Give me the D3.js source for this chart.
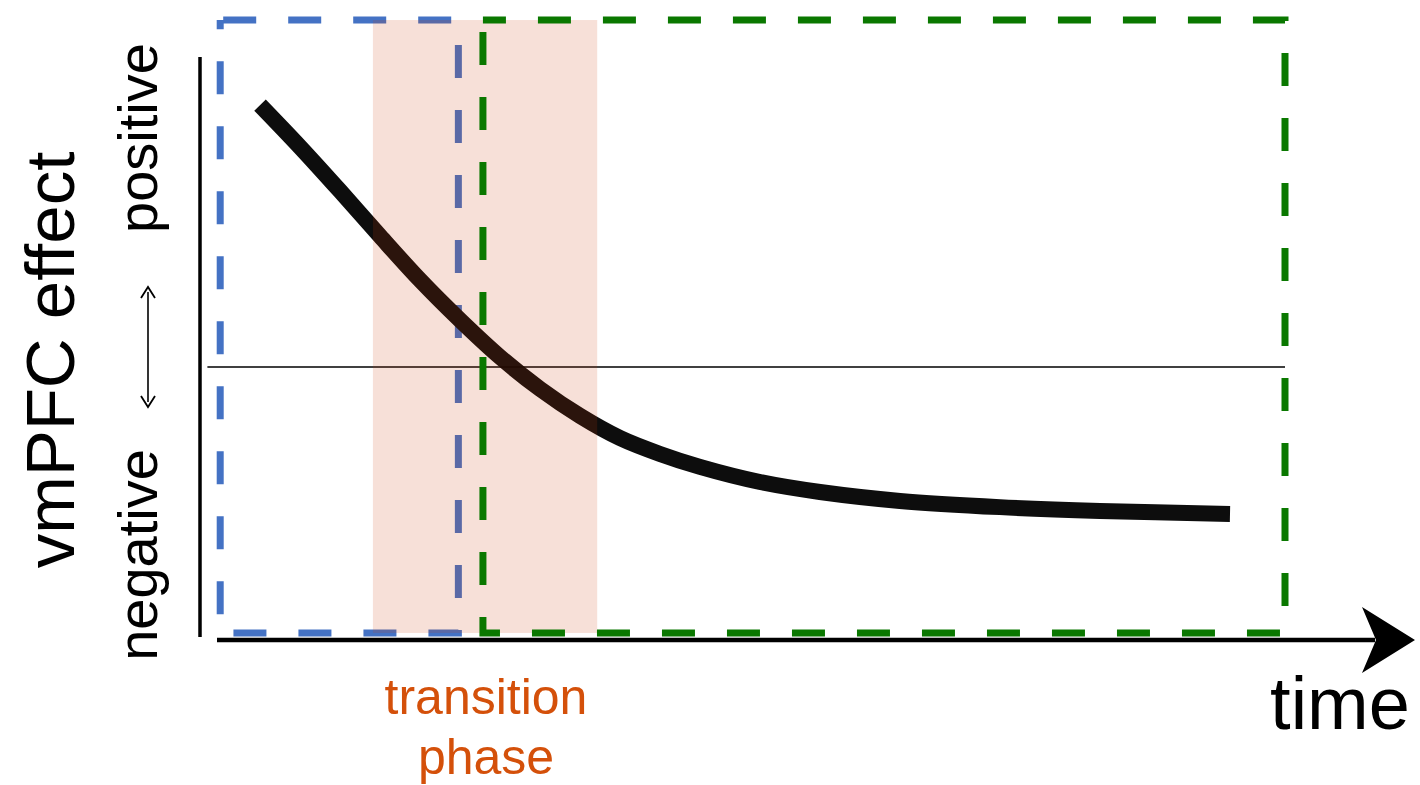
<!DOCTYPE html>
<html>
<head>
<meta charset="utf-8">
<script src="https://cdn.jsdelivr.net/npm/d3@7"></script>
<style>
  html, body { margin: 0; padding: 0; background: #fff; }
  svg { display: block; }
  text { font-family: "Liberation Sans", Arial, Helvetica, sans-serif; }
</style>
</head>
<body>
<svg id="chart" width="1420" height="785"></svg>
<script>
// ---- data ----
const curveTime  = [0.403, 0.777, 1.152, 1.526, 1.901, 2.275, 2.650, 3.024, 3.399, 3.773, 4.148, 4.522, 5.084, 5.646, 6.395, 7.331, 8.268, 9.485];
const curveValue = [0.970, 0.815, 0.652, 0.485, 0.322, 0.174, 0.037, -0.081, -0.181, -0.263, -0.322, -0.370, -0.426, -0.463, -0.496, -0.519, -0.533, -0.544];
const earlyWindow      = [0.03, 2.26];   // blue dashed window (time)
const lateWindow       = [2.49, 10.0];   // green dashed window (time)
const transitionWindow = [1.46, 3.56];   // shaded transition phase (time)
const windowValueRange = [-0.985, 1.285];
const yAxisLabels  = ["negative", "positive"];
const yTitle = "vmPFC effect";
const xTitle = "time";
const transitionLabel = ["transition", "phase"];

// ---- scales ----
const svg = d3.select("#chart");
const x = d3.scaleLinear().domain([0, 10]).range([217, 1285]);
const y = d3.scaleLinear().domain([-1, 1]).range([637, 97]);

function rectPath(x0, x1, y0, y1) {
  return `M${x(x0)},${y(y1)}H${x(x1)}V${y(y0)}H${x(x0)}Z`;
}

// blue dashed window
svg.append("path")
  .attr("d", rectPath(earlyWindow[0], earlyWindow[1], windowValueRange[0], windowValueRange[1]))
  .attr("fill", "none").attr("stroke", "#4472c4").attr("stroke-width", 7)
  .attr("stroke-dasharray", "33 32").attr("stroke-dashoffset", -3);

// curve
const pts = curveTime.map((t, i) => [t, curveValue[i]]);
svg.append("path")
  .datum(pts)
  .attr("d", d3.line().x(d => x(d[0])).y(d => y(d[1])).curve(d3.curveCatmullRom.alpha(0.5)))
  .attr("fill", "none").attr("stroke", "#0d0d0d").attr("stroke-width", 16)
  .attr("stroke-linecap", "butt");

// zero line
svg.append("line")
  .attr("x1", x(-0.09)).attr("x2", x(10)).attr("y1", y(0)).attr("y2", y(0))
  .attr("stroke", "#000").attr("stroke-width", 1.5);

// transition band
svg.append("rect")
  .attr("x", x(transitionWindow[0])).attr("width", x(transitionWindow[1]) - x(transitionWindow[0]))
  .attr("y", y(windowValueRange[1])).attr("height", y(windowValueRange[0]) - y(windowValueRange[1]))
  .attr("fill", "rgb(205,60,10)").attr("fill-opacity", 0.16);

// green dashed window
svg.append("path")
  .attr("d", rectPath(lateWindow[0], lateWindow[1], windowValueRange[0], windowValueRange[1]))
  .attr("fill", "none").attr("stroke", "#0a7800").attr("stroke-width", 7)
  .attr("stroke-dasharray", "33 32").attr("stroke-dashoffset", 10);

// y axis line
svg.append("line")
  .attr("x1", 200).attr("x2", 200).attr("y1", 57).attr("y2", 637)
  .attr("stroke", "#000").attr("stroke-width", 3.5);

// x axis arrow
svg.append("line")
  .attr("x1", 217).attr("x2", 1375).attr("y1", 640).attr("y2", 640)
  .attr("stroke", "#000").attr("stroke-width", 4.5);
svg.append("path")
  .attr("d", "M1415,640 L1362,607 L1376,640 L1362,673 Z")
  .attr("fill", "#000");

// axis titles
svg.append("text")
  .attr("transform", "translate(74,360) rotate(-90)")
  .attr("text-anchor", "middle").attr("font-size", 69).attr("fill", "#000")
  .text(yTitle);
svg.append("text")
  .attr("transform", "translate(157,555) rotate(-90)")
  .attr("text-anchor", "middle").attr("font-size", 56).attr("fill", "#000")
  .text(yAxisLabels[0]);
svg.append("text")
  .attr("transform", "translate(157,138) rotate(-90)")
  .attr("text-anchor", "middle").attr("font-size", 56).attr("fill", "#000")
  .text(yAxisLabels[1]);

// small double arrow
const da = svg.append("g");
da.append("line").attr("x1", 148).attr("x2", 148).attr("y1", 292).attr("y2", 402)
  .attr("stroke", "#000").attr("stroke-width", 1.6);
da.append("path").attr("d", "M141,298 L148,287 L155,298").attr("fill", "none").attr("stroke", "#000").attr("stroke-width", 1.8);
da.append("path").attr("d", "M141,396 L148,407 L155,396").attr("fill", "none").attr("stroke", "#000").attr("stroke-width", 1.8);

svg.append("text")
  .attr("x", 1340).attr("y", 729)
  .attr("text-anchor", "middle").attr("font-size", 74).attr("fill", "#000")
  .text(xTitle);

const tl = svg.append("text")
  .attr("text-anchor", "middle").attr("font-size", 50).attr("fill", "#d4500a");
tl.append("tspan").attr("x", 486).attr("y", 714).text(transitionLabel[0]);
tl.append("tspan").attr("x", 486).attr("y", 774).text(transitionLabel[1]);
</script>
</body>
</html>
